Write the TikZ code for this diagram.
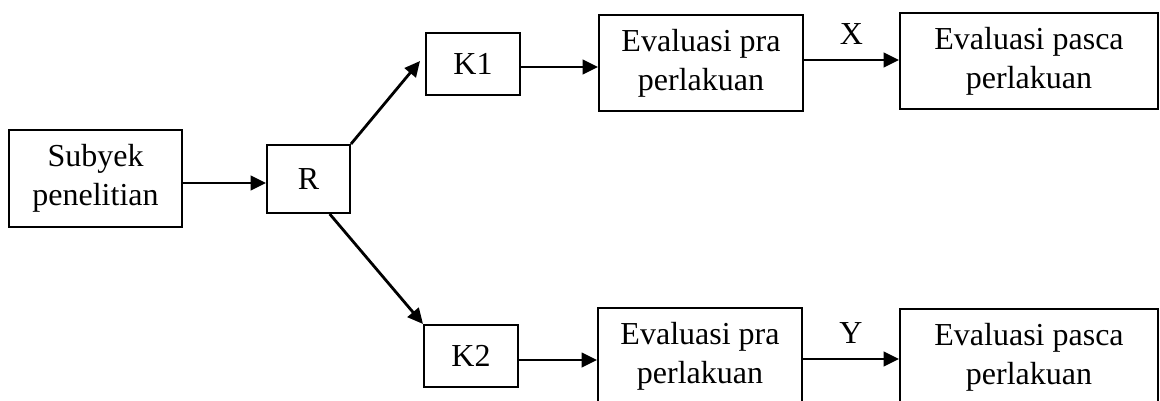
\documentclass[tikz,border=0pt]{standalone}
\usepackage{fontspec}
\setmainfont{Liberation Serif}
\usetikzlibrary{calc}
\usetikzlibrary{arrows.meta}
\tikzstyle{block}=[draw,line width=0.75pt,inner sep=0pt,align=center,font=\fontsize{12}{14.6}\selectfont]
\tikzstyle{small}=[block,minimum width=35.25pt,minimum height=23.25pt]
\tikzstyle{evalbox}=[block,minimum height=36pt]
\tikzstyle{flow}=[-{Triangle[length=5.8pt,width=5.4pt]},line width=1.05pt]
\tikzstyle{tag}=[above=2pt,font=\fontsize{12}{14.6}\selectfont]

\begin{document}
\begin{tikzpicture}[x=0.375pt,y=-0.375pt]
\useasboundingbox (0,0) rectangle (1160,400);
% start and randomisation
\node[block,minimum width=64.9pt,minimum height=36.4pt] (subj) at (95.5,178.5) {Subyek\\penelitian};
\node[block,minimum width=31.1pt,minimum height=25.5pt] (R) at (308.5,179) {R};
% group K1
\node[small] (K1) at (473,64) {K1};
\node[evalbox,minimum width=76.5pt] (pra1) at (701,63) {Evaluasi pra\\perlakuan};
\node[evalbox,minimum width=96.75pt] (pasca1) at (1029,61) {Evaluasi pasca\\perlakuan};
% group K2
\node[small] (K2) at (471,356) {K2};
\node[evalbox,minimum width=76.5pt] (pra2) at (700,356) {Evaluasi pra\\perlakuan};
\node[evalbox,minimum width=96.75pt] (pasca2) at (1029,357) {Evaluasi pasca\\perlakuan};
\coordinate (Rdown) at ($(R.south)!0.5!(R.south east)$);
\draw[flow] (subj.east |- 0,183) -- (R.west |- 0,183);
\draw[flow] (R.north east) -- ($(K1.west)+(-5,-3)$);
\draw[flow] (Rdown) -- (K2.north west);
\draw[flow] (K1.east |- 0,67) -- (pra1.west |- 0,67);
\draw[flow] (K2.east |- 0,360) -- (pra2.west |- 0,360);
\draw[flow] (pra1.east |- 0,60) -- node[tag] (X) {X} (pasca1.west |- 0,60);
\draw[flow] (pra2.east |- 0,359) -- node[tag] (Y) {Y} (pasca2.west |- 0,359);
\end{tikzpicture}
\end{document}
